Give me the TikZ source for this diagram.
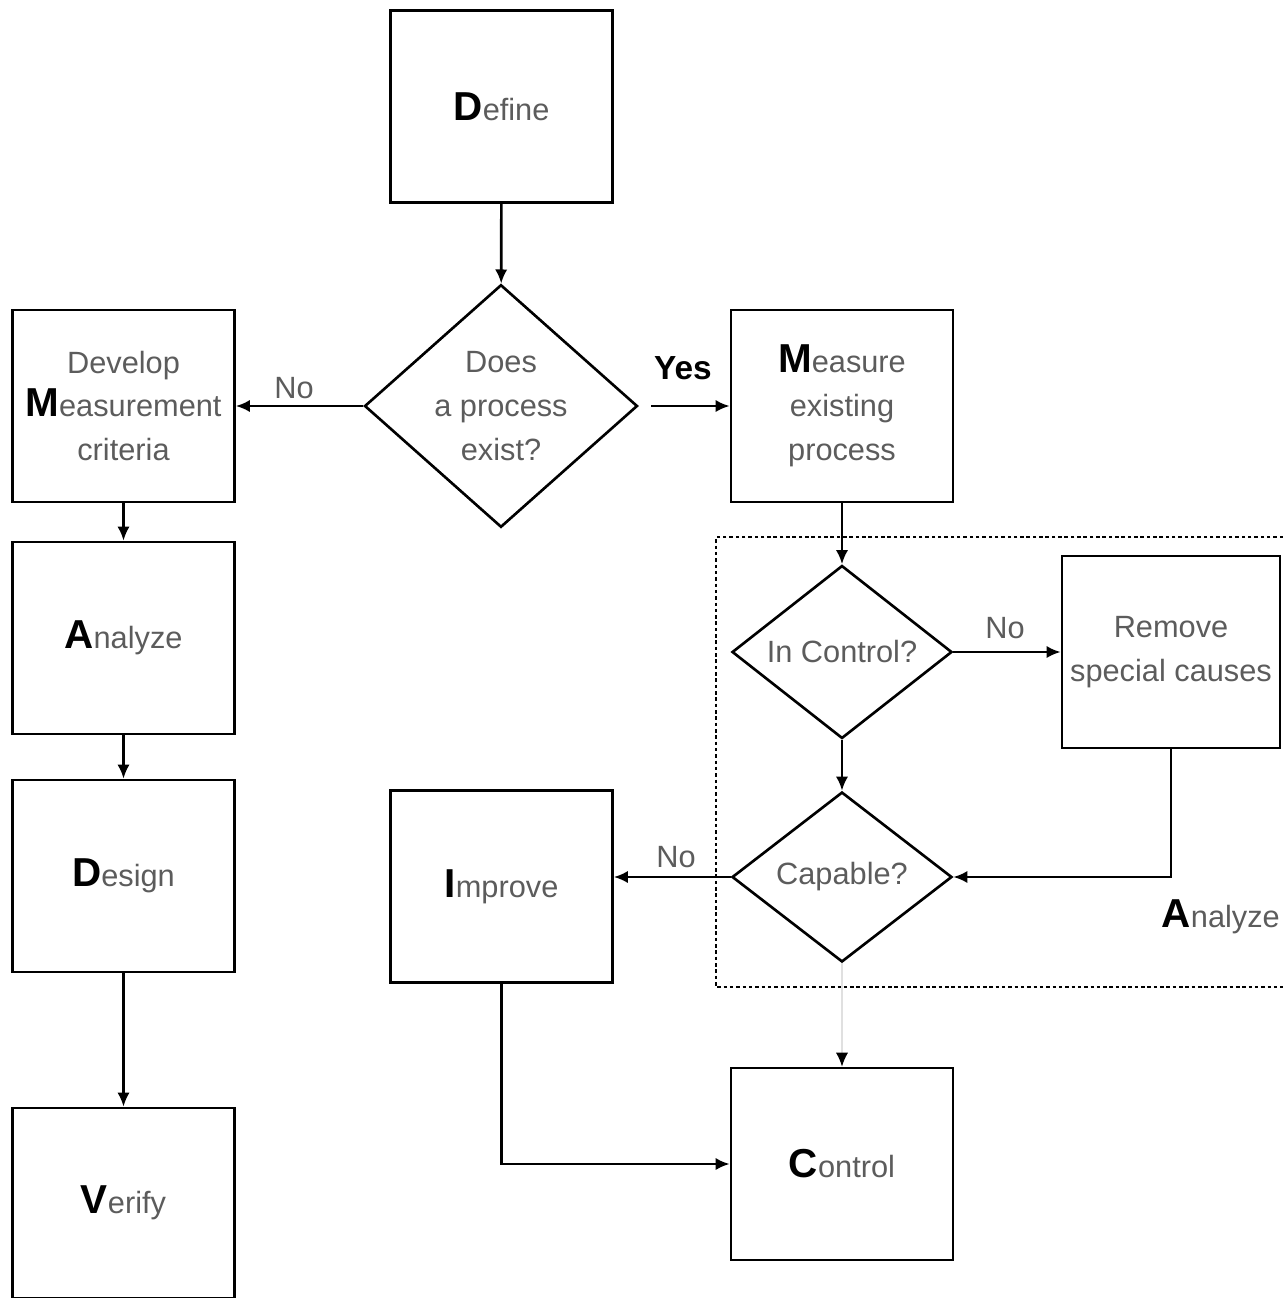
\documentclass[tikz,border=0pt]{standalone}
\usepackage{fontspec}
\setmainfont{Liberation Sans}
\usetikzlibrary{shapes.geometric,arrows.meta}
\definecolor{txtgray}{HTML}{5C5C5C}
\newcommand{\initial}[1]{{\color{black}\fontsize{23}{25}\selectfont\bfseries #1}}
\tikzset{
    box/.style={draw,line width=1.5pt,minimum width=4.44cm,minimum height=3.84cm,
        inner sep=0pt,align=center,font=\fontsize{17.5}{25}\selectfont,text=txtgray},
    decision/.style={draw,diamond,line width=1.5pt,inner sep=0pt,align=center,
        font=\fontsize{17.5}{25}\selectfont,text=txtgray},
    flow/.style={line width=1.5pt,-{Latex[length=8pt,width=7pt]}},
    lbl/.style={font=\fontsize{17.5}{21}\selectfont,text=txtgray}
}

\begin{document}
\begin{tikzpicture}[x=0.02cm,y=-0.02cm]
    \useasboundingbox (0,0) rectangle (1283,1298);
    \node[box] (define) at (501.5,106.5) {\initial{D}efine};
    \node[decision,minimum width=5.46cm,minimum height=4.64cm] (exist) at (501,406) {Does\\a process\\exist?};
    \node[box] (develop) at (123.5,406) {Develop\\\initial{M}easurement\\criteria};
    \node[box] (measure) at (842,406) {\initial{M}easure\\existing\\process};
    \node[box] (analyze) at (123.5,638) {\initial{A}nalyze};
    \node[box] (design) at (123.5,876) {\initial{D}esign};
    \node[box,minimum height=3.8cm] (verify) at (123.5,1203) {\initial{V}erify};
    \node[decision,minimum width=4.4cm,minimum height=3.38cm] (incontrol) at (842,652) {In Control?};
    \node[decision,minimum width=4.4cm,minimum height=3.4cm] (capable) at (842,877) {Capable?};
    \node[box,minimum width=4.36cm] (remove) at (1171,652) {Remove\\special causes};
    \node[box] (improve) at (501.5,886.5) {\initial{I}mprove};
    \node[box] (control) at (842,1164) {\initial{C}ontrol};

    \draw[line width=1.3pt,dash pattern=on 2pt off 1.6pt] (1283,537) -| (716,987) -- (1283,987);
    \node[lbl,anchor=east] (analyzelbl) at (1286,917) {\initial{A}nalyze};

    \draw[flow] (define) -- (exist);
    \draw[flow] (exist) -- (develop);
    \draw[flow] ([xshift=7pt]exist.east) -- (measure);
    \draw[flow] (measure) -- (incontrol);
    \draw[flow] (develop) -- (analyze);
    \draw[flow] (analyze) -- (design);
    \draw[flow] (design) -- (verify);
    \draw[flow] (incontrol) -- (remove);
    \draw[flow] (incontrol) -- (capable);
    \draw[flow] (remove.south) |- (capable.east);
    \draw[flow] (capable.west) -- (capable.west -| improve.east);
    \draw[line width=1pt,draw=black!12,-{Latex[length=8pt,width=7pt,color=black]}] (capable) -- (control);
    \draw[flow] (improve.south) |- (control.west);

    \node[lbl] (noexist) at (294,388) {No};
    \node[font=\fontsize{19}{21}\selectfont\bfseries] (yes) at (683,368) {Yes};
    \node[lbl] (nocontrol) at (1005,628) {No};
    \node[lbl] (nocapable) at (676,857) {No};
\end{tikzpicture}
\end{document}
